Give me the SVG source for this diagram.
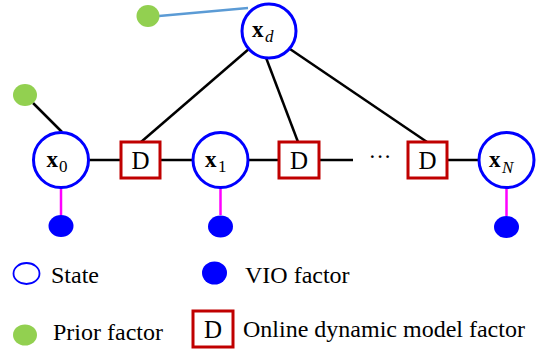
<svg xmlns="http://www.w3.org/2000/svg" width="543" height="351" viewBox="0 0 543 351">
<style>
.state{fill:#fff;stroke:#0000ff;stroke-width:3}
.dbox{fill:#fff;stroke:#c00000;stroke-width:3}
.vio{fill:#0000ff}
.prior{fill:#92d050}
.edge{stroke:#000;stroke-width:2.5;fill:none}
.vioe{stroke:#ff00ff;stroke-width:2.5}
.prie{stroke:#5b9bd5;stroke-width:2.5}
.t{font-family:"Liberation Serif","Times New Roman",serif;fill:#000}
.x{font-size:23px;font-weight:bold}
.sub{font-size:17px}
.it{font-style:italic}
.dl{font-size:25px;text-anchor:middle}
.leg{font-size:24px}
</style>
<g id="connectors">
<line class="edge" x1="89" y1="160" x2="121" y2="160"/>
<line class="edge" x1="160" y1="160" x2="193" y2="160"/>
<line class="edge" x1="248" y1="160" x2="279" y2="160"/>
<line class="edge" x1="319" y1="160" x2="353" y2="160"/>
<line class="edge" x1="447" y1="160" x2="479" y2="160"/>
<line class="edge" x1="141" y1="142" x2="250" y2="48"/>
<line class="edge" x1="298" y1="142" x2="265" y2="55"/>
<line class="edge" x1="427" y1="142" x2="287" y2="47"/>
<line class="edge" x1="33" y1="103" x2="62" y2="132"/>
<line class="prie" x1="159" y1="16" x2="248" y2="8"/>
<line class="vioe" x1="61" y1="188" x2="61" y2="215"/>
<line class="vioe" x1="220.5" y1="188" x2="220.5" y2="215"/>
<line class="vioe" x1="506.5" y1="188" x2="506.5" y2="216"/>
</g>
<g id="xd">
<circle class="state" cx="269" cy="31" r="27"/>
<text class="t"><tspan class="x" x="252" y="37">x</tspan><tspan class="sub it" x="265" y="42">d</tspan></text>
</g>
<g id="x0">
<circle class="state" cx="61" cy="160" r="27.5"/>
<text class="t"><tspan class="x" x="46.5" y="167">x</tspan><tspan class="sub" x="59" y="172">0</tspan></text>
</g>
<g id="x1">
<circle class="state" cx="220.5" cy="160" r="27.5"/>
<text class="t"><tspan class="x" x="205" y="167">x</tspan><tspan class="sub" x="218" y="172">1</tspan></text>
</g>
<g id="xN">
<circle class="state" cx="506.5" cy="160" r="27.5"/>
<text class="t"><tspan class="x" x="489" y="167">x</tspan><tspan class="sub it" x="502" y="173">N</tspan></text>
</g>
<g id="D1">
<rect class="dbox" x="121" y="142" width="39" height="36"/>
<text class="t dl" x="140.5" y="169">D</text>
</g>
<g id="D2">
<rect class="dbox" x="279" y="142" width="40" height="36"/>
<text class="t dl" x="299" y="169">D</text>
</g>
<g id="D3">
<rect class="dbox" x="408" y="142" width="39" height="36"/>
<text class="t dl" x="427.5" y="169">D</text>
</g>
<g id="ellipsis">
<text class="t" x="380" y="164" font-size="23" text-anchor="middle">···</text>
</g>
<g id="prior_d"><ellipse class="prior" cx="148" cy="16" rx="11.5" ry="11"/></g>
<g id="prior_0"><ellipse class="prior" cx="25" cy="95" rx="12" ry="11"/></g>
<g id="vio_0"><ellipse class="vio" cx="61" cy="226" rx="12.5" ry="11"/></g>
<g id="vio_1"><ellipse class="vio" cx="220.5" cy="226.5" rx="12.5" ry="11"/></g>
<g id="vio_N"><ellipse class="vio" cx="506.5" cy="227" rx="12.5" ry="11"/></g>
<g id="legend">
<ellipse cx="26.5" cy="273.5" rx="13" ry="10.5" fill="#fff" stroke="#0000ff" stroke-width="1.8"/>
<text class="t leg" x="51" y="283">State</text>
<ellipse class="vio" cx="214.5" cy="273" rx="12.5" ry="11.5"/>
<text class="t leg" x="245" y="283">VIO factor</text>
<ellipse class="prior" cx="25" cy="335" rx="12" ry="10.5"/>
<text class="t leg" x="53" y="340">Prior factor</text>
<rect class="dbox" x="193" y="311" width="40" height="36"/>
<text class="t dl" x="213" y="338">D</text>
<text class="t leg" x="243" y="337">Online dynamic model factor</text>
</g>
</svg>
